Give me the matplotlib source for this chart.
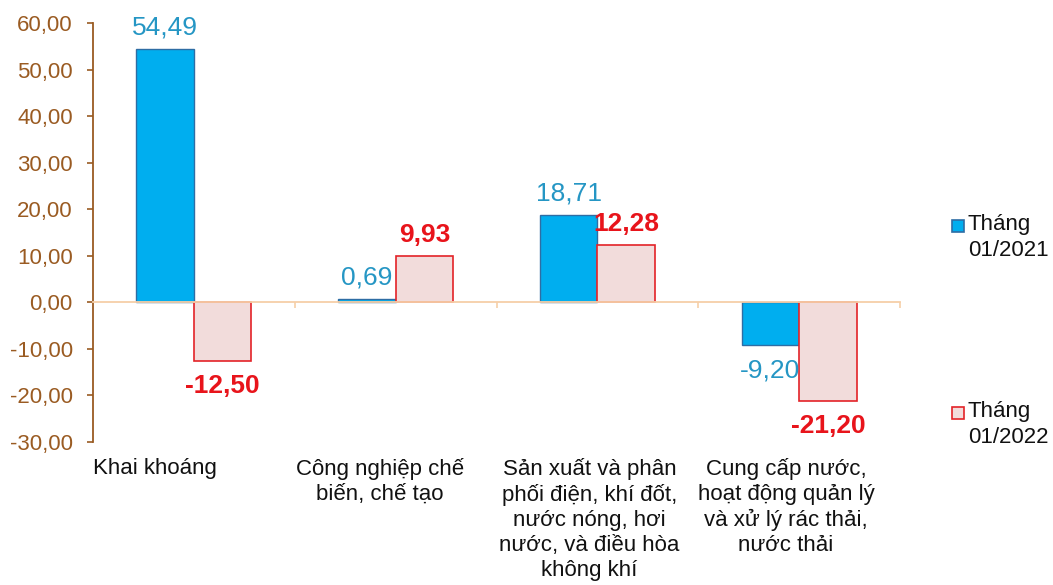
import matplotlib
matplotlib.use("Agg")
import matplotlib.pyplot as plt
from matplotlib.patches import Rectangle
from matplotlib.transforms import offset_copy
import numpy as np

plt.rcParams['font.family'] = ['Liberation Sans', 'DejaVu Sans']

categories = ["Khai khoáng",
              "Công nghiệp chế\nbiến, chế tạo",
              "Sản xuất và phân\nphối điện, khí đốt,\nnước nóng, hơi\nnước, và điều hòa\nkhông khí",
              "Cung cấp nước,\nhoạt động quản lý\nvà xử lý rác thải,\nnước thải"]
series_names = ["Tháng\n01/2021", "Tháng\n01/2022"]
values_2021 = [54.49, 0.69, 18.71, -9.20]
values_2022 = [-12.50, 9.93, 12.28, -21.20]
yticks = [60, 50, 40, 30, 20, 10, 0, -10, -20, -30]

def fmt(v):
    return f"{v:.2f}".replace(".", ",")

fig = plt.figure(figsize=(10.53, 5.85), dpi=100)
ax = fig.add_axes([93/1053, 1-442/585, (900-93)/1053, (442-23)/585])

x = np.arange(len(categories))
w = 0.285
ax.bar(x - w/2, values_2021, w, color="#00AEEF", edgecolor="#2E6DA4", linewidth=1.0, zorder=3)
ax.bar(x + w/2, values_2022, w, color="#F2DCDB", edgecolor="#E32228", linewidth=1.2, zorder=3)

def label(xi, v, color, weight):
    if v >= 0:
        ax.annotate(fmt(v), (xi, v), xytext=(0, 10.5), textcoords="offset points",
                    ha="center", va="baseline", fontsize=19, color=color, fontweight=weight)
    else:
        ax.annotate(fmt(v), (xi, v), xytext=(0, -9.5), textcoords="offset points",
                    ha="center", va="top", fontsize=19, color=color, fontweight=weight)

for xi, v in zip(x - w/2, values_2021):
    label(xi, v, "#2596C4", "normal")
for xi, v in zip(x + w/2, values_2022):
    label(xi, v, "#E8141B", "bold")

ax.set_xlim(-0.5, len(categories) - 0.5)
ax.set_ylim(-30, 60)
ax.set_yticks(yticks)
ax.set_yticklabels([fmt(t) for t in yticks], fontsize=16, color="#9A5B22")
ax.tick_params(axis="y", direction="out", length=4.5, width=1.2, color="#9A5B22", pad=10)

ax.spines["top"].set_visible(False)
ax.spines["right"].set_visible(False)
ax.spines["left"].set_color("#9A5B22")
ax.spines["left"].set_linewidth(1.3)
ax.spines["bottom"].set_position(("data", 0))
ax.spines["bottom"].set_color("#F6CFA8")
ax.spines["bottom"].set_linewidth(1.3)
ax.spines["bottom"].set_zorder(4)
ax.set_xticks(np.arange(len(categories)) + 0.5)
ax.set_xticklabels([])
ax.tick_params(axis="x", direction="out", length=4, width=1.2, color="#F6CFA8")

trans = ax.get_xaxis_transform()
label_shift_px = [-39, -16, -8, -13]
for xi, c, dx in zip(x, categories, label_shift_px):
    t = offset_copy(trans, fig=fig, x=dx, y=0, units="dots")
    ax.text(xi, -0.038, c, transform=t, ha="center", va="top",
            fontsize=16, color="#111111", linespacing=1.24)

# legend
for (ytop, name, fc, ec) in [(226, series_names[0], "#00AEEF", "#2E6DA4"),
                              (413, series_names[1], "#F2DCDB", "#E32228")]:
    fig.patches.append(Rectangle((952/1053, 1-(ytop+6)/585), 12/1053, 12/585,
                                 transform=fig.transFigure, facecolor=fc, edgecolor=ec,
                                 linewidth=1.2))
    fig.text(968/1053, 1-(ytop-12)/585, name, ha="left", va="top", fontsize=16,
             color="#111111", linespacing=1.3)

fig.savefig("out.png", dpi=100)
